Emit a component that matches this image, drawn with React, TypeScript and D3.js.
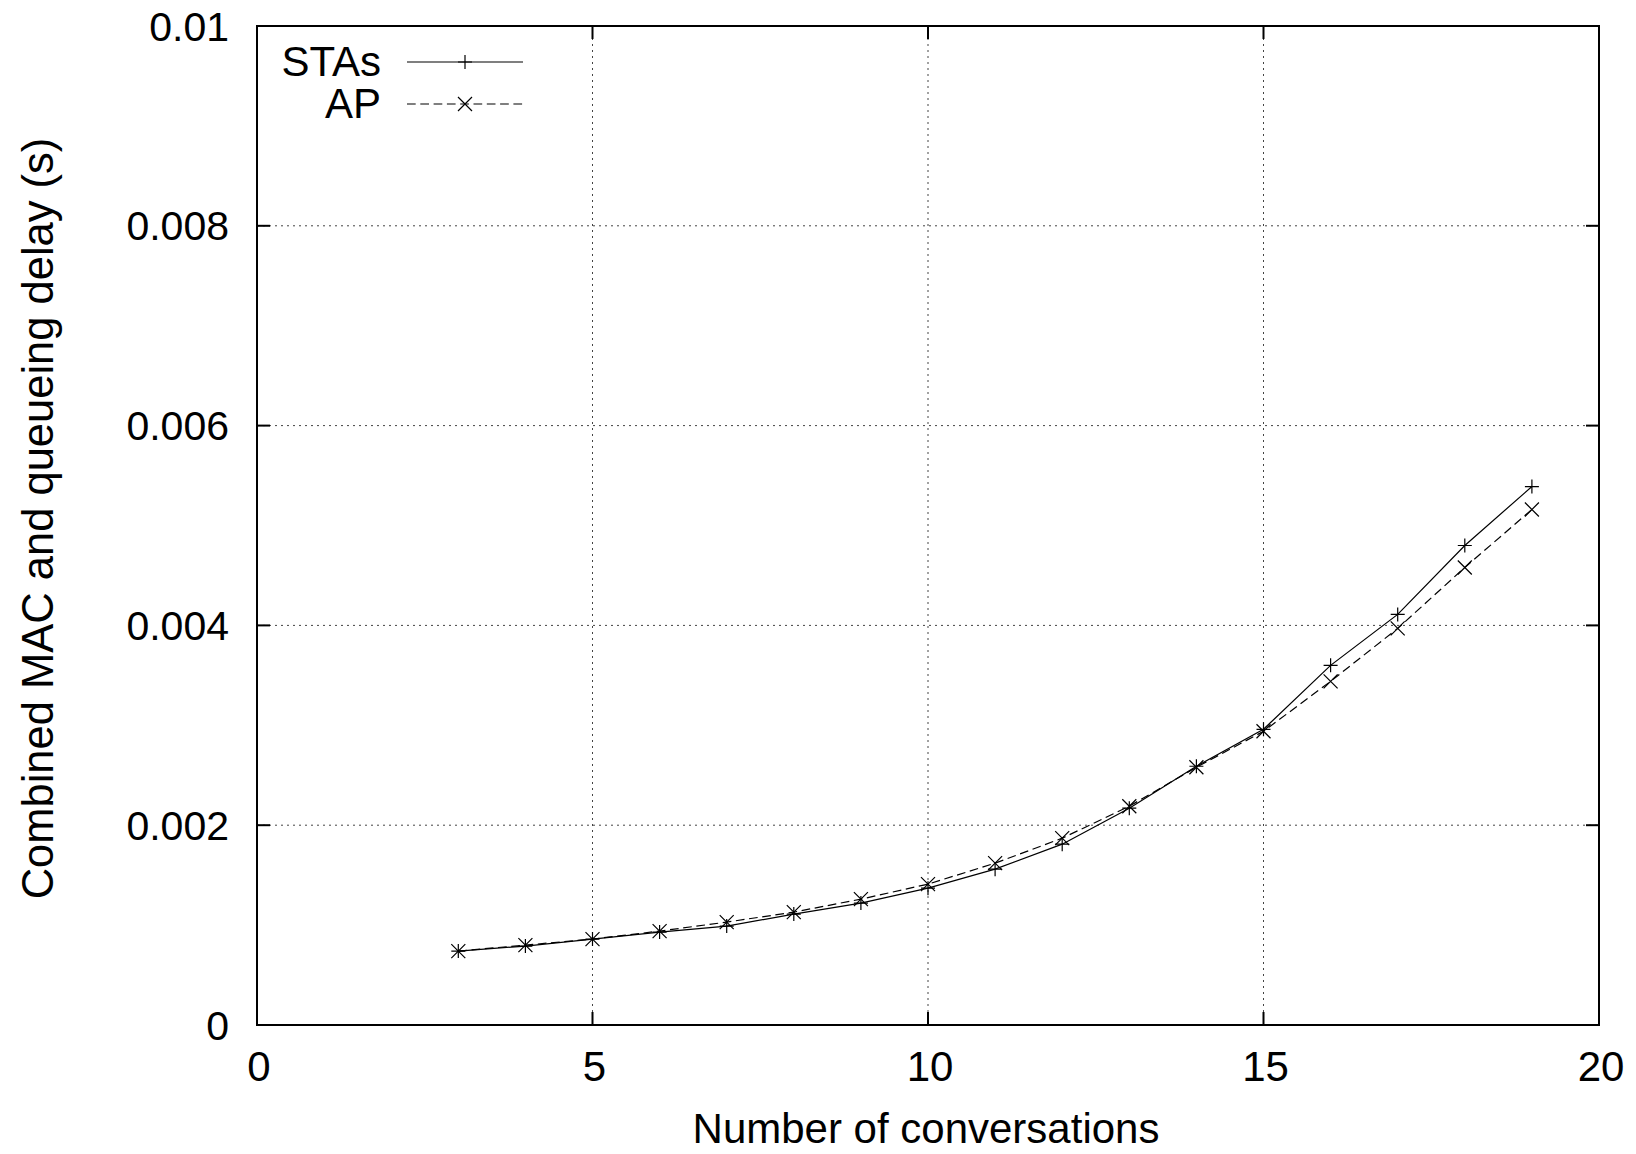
import React, { useEffect, useRef } from "react";
import * as d3 from "d3";

// values
const conversations = [3, 4, 5, 6, 7, 8, 9, 10, 11, 12, 13, 14, 15, 16, 17, 18, 19];
const stasDelay = [0.00074, 0.00079, 0.00086, 0.00093, 0.00099, 0.00111, 0.00122, 0.00137, 0.00156, 0.00181, 0.00217, 0.00259, 0.00296, 0.0036, 0.00411, 0.0048, 0.00539];
const apDelay = [0.00074, 0.0008, 0.00086, 0.00094, 0.00103, 0.00113, 0.00126, 0.00141, 0.00162, 0.00187, 0.00219, 0.00258, 0.00294, 0.00344, 0.00397, 0.00458, 0.00516];
const xTicks = [0, 5, 10, 15, 20];
const yTicks = [0, 0.002, 0.004, 0.006, 0.008, 0.01];
const yTickLabels = ["0", "0.002", "0.004", "0.006", "0.008", "0.01"];

const WIDTH = 1636;
const HEIGHT = 1154;
const FONT = "'Liberation Sans', Arial, Helvetica, sans-serif";

export default function App() {
    const ref = useRef<SVGSVGElement>(null);

    useEffect(() => {
        const svg = d3.select(ref.current);
        svg.selectAll("*").remove();

        const left = 257, right = 1599, top = 26, bottom = 1025;
        const x = d3.scaleLinear().domain([0, 20]).range([left, right]);
        const y = d3.scaleLinear().domain([0, 0.01]).range([bottom, top]);
        const tickLen = 13;

        // grid
        const grid = svg.append("g")
            .attr("stroke", "#444")
            .attr("stroke-width", 1)
            .attr("stroke-dasharray", "2,4");
        xTicks.slice(1, -1).forEach(t => {
            grid.append("line")
                .attr("x1", x(t)).attr("x2", x(t))
                .attr("y1", top).attr("y2", bottom);
        });
        yTicks.slice(1, -1).forEach(t => {
            grid.append("line")
                .attr("x1", left).attr("x2", right)
                .attr("y1", y(t)).attr("y2", y(t));
        });

        // ticks (mirrored on all sides)
        const ticks = svg.append("g").attr("stroke", "#000").attr("stroke-width", 2);
        xTicks.forEach(t => {
            ticks.append("line").attr("x1", x(t)).attr("x2", x(t)).attr("y1", bottom).attr("y2", bottom - tickLen);
            ticks.append("line").attr("x1", x(t)).attr("x2", x(t)).attr("y1", top).attr("y2", top + tickLen);
        });
        yTicks.forEach(t => {
            ticks.append("line").attr("x1", left).attr("x2", left + tickLen).attr("y1", y(t)).attr("y2", y(t));
            ticks.append("line").attr("x1", right).attr("x2", right - tickLen).attr("y1", y(t)).attr("y2", y(t));
        });

        // border
        svg.append("rect")
            .attr("x", left).attr("y", top)
            .attr("width", right - left).attr("height", bottom - top)
            .attr("fill", "none").attr("stroke", "#000").attr("stroke-width", 2);

        // tick labels
        const labels = svg.append("g").attr("font-family", FONT).attr("font-size", 41).attr("fill", "#000");
        xTicks.forEach(t => {
            labels.append("text")
                .attr("x", x(t) + 2).attr("y", 1081)
                .attr("font-size", 42)
                .attr("text-anchor", "middle")
                .text(t);
        });
        yTicks.forEach((t, i) => {
            labels.append("text")
                .attr("x", 229).attr("y", y(t) + 14.5)
                .attr("text-anchor", "end")
                .text(yTickLabels[i]);
        });

        // axis titles
        labels.append("text")
            .attr("x", (left + right) / 2 - 2).attr("y", 1143)
            .attr("font-size", 42)
            .attr("text-anchor", "middle")
            .text("Number of conversations");
        labels.append("text")
            .attr("transform", "translate(53," + ((top + bottom) / 2 - 7) + ") rotate(-90)")
            .attr("font-size", 43.5)
            .attr("text-anchor", "middle")
            .text("Combined MAC and queueing delay (s)");

        const series = [
            { name: "STAs", values: stasDelay, dash: null, mark: "plus" },
            { name: "AP", values: apDelay, dash: "8.7,4.6", mark: "cross" }
        ];
        const line = d3.line<number>()
            .x((d, i) => x(conversations[i]))
            .y(d => y(d));
        const m = 7;

        const drawMark = (g: any, cx: number, cy: number, kind: string) => {
            const p = kind === "plus"
                ? `M${cx - m},${cy}H${cx + m}M${cx},${cy - m}V${cy + m}`
                : `M${cx - m},${cy - m}L${cx + m},${cy + m}M${cx - m},${cy + m}L${cx + m},${cy - m}`;
            g.append("path").attr("d", p).attr("stroke", "#000").attr("stroke-width", 1.2).attr("fill", "none");
        };

        series.forEach((s, k) => {
            const g = svg.append("g");
            g.append("path")
                .attr("d", line(s.values))
                .attr("fill", "none")
                .attr("stroke", "#000")
                .attr("stroke-width", 1.2)
                .attr("stroke-dasharray", s.dash);
            s.values.forEach((v, i) => drawMark(g, x(conversations[i]), y(v), s.mark));

            // legend entry
            const ly = 62 + k * 42;
            labels.append("text")
                .attr("x", 381).attr("y", ly + 14)
                .attr("font-size", 42)
                .attr("text-anchor", "end")
                .text(s.name);
            g.append("line")
                .attr("x1", 407).attr("x2", 523)
                .attr("y1", ly).attr("y2", ly)
                .attr("stroke", "#000").attr("stroke-width", 1.2)
                .attr("stroke-dasharray", s.dash);
            drawMark(g, 465, ly, s.mark);
        });
    }, []);

    return (
        <div style={{ position: "absolute", left: 0, top: 0 }}>
            <svg ref={ref} width={WIDTH} height={HEIGHT} style={{ display: "block", background: "#fff" }} />
        </div>
    );
}
